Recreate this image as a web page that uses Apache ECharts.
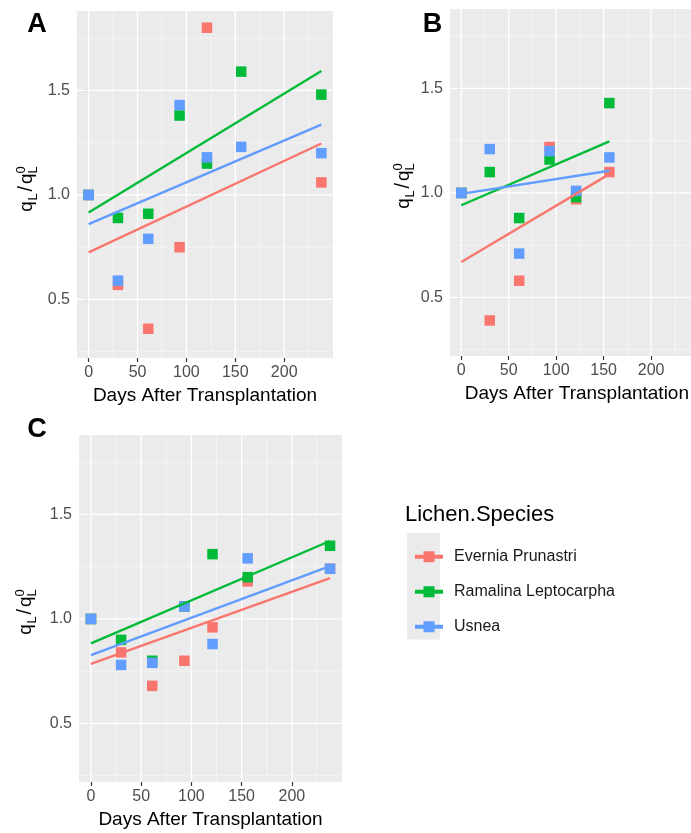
<!DOCTYPE html>
<html>
<head>
<meta charset="utf-8">
<script src="https://cdn.jsdelivr.net/npm/echarts@6/dist/echarts.min.js"></script>
<style>
  html, body { margin: 0; background: #fff; }
  #chart { width: 691px; height: 833px; }
</style>
</head>
<body>
<div id="chart"></div>
<script>
// lichen species (legend order) and ggplot colours
const species = ['Evernia Prunastri', 'Ramalina Leptocarpha', 'Usnea']
const colors = ['#F8766D', '#00BA38', '#619CFF']

// days after transplantation
const days7 = [0, 30, 61, 93, 121, 156, 238]
const days6 = [0, 30, 61, 93, 121, 156]
const daysEvA = [0, 30, 61, 93, 121, 238]

// panel A
const evA = [1.00, 0.57, 0.36, 0.75, 1.80, 1.06]
const raA = [1.00, 0.89, 0.91, 1.38, 1.15, 1.59, 1.48]
const usA = [1.00, 0.59, 0.79, 1.43, 1.18, 1.23, 1.20]
// panel B
const evB = [1.00, 0.39, 0.58, 1.22, 0.97, 1.10]
const raB = [1.00, 1.10, 0.88, 1.16, 0.98, 1.43]
const usB = [1.00, 1.21, 0.71, 1.20, 1.01, 1.17]
// panel C
const evC = [1.00, 0.84, 0.68, 0.80, 0.96, 1.18, 1.24]
const raC = [1.00, 0.90, 0.80, 1.06, 1.31, 1.20, 1.35]
const usC = [1.00, 0.78, 0.79, 1.06, 0.88, 1.29, 1.24]

// ticks
const xTicks = [0, 50, 100, 150, 200]
const xMinor = [25, 75, 125, 175, 225]
const yTicks = [0.5, 1.0, 1.5]
const yMinor = [0.25, 0.75, 1.25, 1.75]

const font = 'Liberation Sans, Arial, sans-serif'

const panels = [
  { letter: 'A', grid: { left: 77, top: 11, width: 256, height: 347 }, x: [-11.9, 249.9],
    xs: [daysEvA, days7, days7], ys: [evA, raA, usA], namePad: 0, lab: [33, 189] },
  { letter: 'B', grid: { left: 450, top: 9, width: 241, height: 347 }, x: [-11.9, 241.8],
    xs: [days6, days6, days6], ys: [evB, raB, usB], namePad: 13, lab: [410, 186] },
  { letter: 'C', grid: { left: 79, top: 435, width: 263, height: 347 }, x: [-11.9, 249.9],
    xs: [days7, days7, days7], ys: [evC, raC, usC], namePad: 0, lab: [32, 612] }
]
const yRange = [0.22, 1.88]

// least squares line like geom_smooth(method = 'lm', se = FALSE)
function fitLine (xs, ys) {
  const n = xs.length
  const mx = xs.reduce((a, b) => a + b, 0) / n
  const my = ys.reduce((a, b) => a + b, 0) / n
  let sxy = 0
  let sxx = 0
  for (let i = 0; i < n; i++) {
    sxy += (xs[i] - mx) * (ys[i] - my)
    sxx += (xs[i] - mx) * (xs[i] - mx)
  }
  const b = sxy / sxx
  const a = my - b * mx
  const x0 = Math.min(...xs)
  const x1 = Math.max(...xs)
  return [[x0, a + b * x0], [x1, a + b * x1]]
}

// white panel grid lines drawn through the axis scales
function gridLines (xr) {
  return function (params, api) {
    const children = []
    const add = (p1, p2, major) => children.push({
      type: 'line',
      shape: { x1: p1[0], y1: p1[1], x2: p2[0], y2: p2[1] },
      style: { stroke: major ? '#FFFFFF' : '#F6F6F6', lineWidth: major ? 1.3 : 0.8 }
    })
    yMinor.forEach(v => add(api.coord([xr[0], v]), api.coord([xr[1], v]), false))
    xMinor.forEach(v => add(api.coord([v, yRange[0]]), api.coord([v, yRange[1]]), false))
    yTicks.forEach(v => add(api.coord([xr[0], v]), api.coord([xr[1], v]), true))
    xTicks.forEach(v => add(api.coord([v, yRange[0]]), api.coord([v, yRange[1]]), true))
    return { type: 'group', children }
  }
}

const grids = []
const xAxes = []
const yAxes = []
const series = []
const graphics = []

panels.forEach((p, i) => {
  grids.push(Object.assign({ show: true, backgroundColor: '#EBEBEB', borderWidth: 0 }, p.grid))
  xAxes.push({
    type: 'value', gridIndex: i, min: p.x[0], max: p.x[1],
    name: 'Days After Transplantation', nameLocation: 'middle', nameGap: 28,
    nameTextStyle: { fontSize: 19, color: '#000', fontFamily: font, padding: [0, 0, 0, p.namePad] },
    axisLine: { show: false },
    axisTick: { show: true, customValues: xTicks, length: 4, lineStyle: { color: '#333333', width: 1.2 } },
    axisLabel: { customValues: xTicks, fontSize: 16, color: '#4D4D4D', fontFamily: font, margin: 7 },
    splitLine: { show: false }
  })
  yAxes.push({
    type: 'value', gridIndex: i, min: yRange[0], max: yRange[1],
    axisLine: { show: false },
    axisTick: { show: true, customValues: yTicks, length: 4, lineStyle: { color: '#333333', width: 1.2 } },
    axisLabel: { customValues: yTicks, fontSize: 16, color: '#4D4D4D', fontFamily: font, margin: 7,
      formatter: v => v.toFixed(1) },
    splitLine: { show: false }
  })
  series.push({
    type: 'custom', xAxisIndex: i, yAxisIndex: i, silent: true, z: 1,
    renderItem: gridLines(p.x), data: [[0, 1]]
  })
  species.forEach((s, k) => {
    const xs = p.xs[k]
    const ys = p.ys[k]
    series.push({
      name: s, type: 'scatter', xAxisIndex: i, yAxisIndex: i, z: 3,
      symbol: 'rect', symbolSize: 10.5,
      itemStyle: { color: colors[k], opacity: 1 },
      emphasis: { disabled: true },
      data: xs.map((x, j) => [x, ys[j]])
    })
    series.push({
      name: s, type: 'line', xAxisIndex: i, yAxisIndex: i, z: 4,
      showSymbol: false, symbol: 'none',
      lineStyle: { color: colors[k], width: 2.4 },
      itemStyle: { color: colors[k] },
      emphasis: { disabled: true },
      data: fitLine(xs, ys)
    })
  })
  // panel letter
  graphics.push({
    type: 'text', x: p.letter === 'B' ? 432.5 : 37, y: p.letter === 'C' ? 429.6 : 24.6,
    style: { text: p.letter, font: 'bold 27px ' + font, fill: '#000', align: 'center', verticalAlign: 'middle' }
  })
  // y axis title q_L / q_L^0
  const t = (text, x, y, size) => ({
    type: 'text', x, y,
    style: { text, font: size + 'px ' + font, fill: '#000', align: 'left', verticalAlign: 'middle' }
  })
  graphics.push({
    type: 'group', x: p.lab[0], y: p.lab[1], rotation: Math.PI / 2,
    children: [
      t('q', -22.7, -5.9, 19),
      t('L', -11.6, 0, 13),
      t('/', -2.4, -6.2, 20),
      t('q', 4.9, -5.9, 19),
      t('L', 15.6, 0, 13),
      t('0', 15.6, -12, 13)
    ]
  })
})

// legend title and key background
graphics.push({
  type: 'text', x: 405, y: 515,
  style: { text: 'Lichen.Species', font: '22px ' + font, fill: '#000', align: 'left', verticalAlign: 'middle' }
})
graphics.push({
  type: 'rect', shape: { x: 407, y: 533, width: 33, height: 106.5 },
  style: { fill: '#EBEBEB' }, z: -1
})

const keyIcon = 'path://M0,3.5H8.5V0H19.5V3.5H28V7.5H19.5V11H8.5V7.5H0Z'

const chart = echarts.init(document.getElementById('chart'))
chart.setOption({
  animation: false,
  backgroundColor: '#FFFFFF',
  grid: grids,
  xAxis: xAxes,
  yAxis: yAxes,
  legend: {
    orient: 'vertical', left: 410, top: 541.7,
    itemWidth: 28, itemHeight: 11, itemGap: 15,
    selectedMode: false,
    data: species.map((s, k) => ({ name: s, icon: keyIcon, itemStyle: { color: colors[k] } })),
    textStyle: { fontSize: 16, color: '#1A1A1A', fontFamily: font, lineHeight: 20, padding: [0, 0, 0, 6] }
  },
  graphic: graphics,
  series
})
</script>
</body>
</html>
